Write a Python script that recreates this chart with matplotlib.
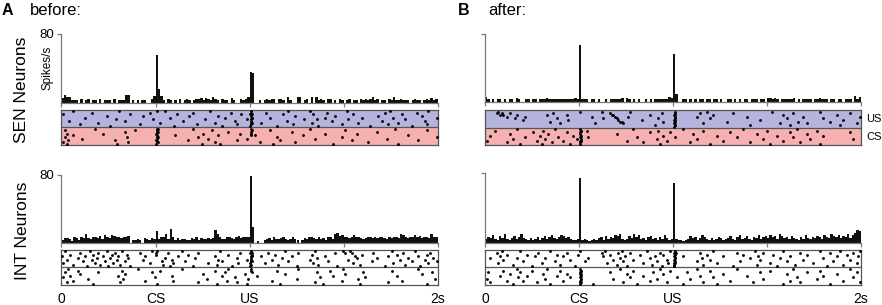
import numpy as np
import matplotlib
matplotlib.use("Agg")
import matplotlib.pyplot as plt

plt.rcParams['font.family'] = ['Liberation Sans', 'DejaVu Sans']

# ---------------- data ----------------
bin_ms = 12.5  # histogram bin width (ms), 160 bins over 2 s
time_ticks = [0, 0.5, 1.0, 1.5, 2.0]
time_labels = ['0', 'CS', 'US', '2s']
label_pos = [0, 0.5, 1.0, 2.0]

sen_before_rate = [
    5, 9, 7, 7, 3, 3, 3, 0, 4, 0,
    3, 4, 0, 3, 3, 0, 4, 0, 3, 3,
    3, 0, 4, 0, 3, 3, 3, 9, 9, 0,
    3, 0, 3, 0, 3, 3, 0, 0, 4, 8,
    56, 16, 8, 3, 0, 4, 3, 0, 3, 0,
    4, 0, 3, 4, 3, 0, 3, 4, 4, 5,
    3, 5, 4, 3, 6, 4, 3, 0, 4, 3,
    3, 0, 5, 3, 0, 0, 4, 3, 4, 6,
    36, 34, 0, 0, 3, 0, 3, 4, 3, 4,
    4, 0, 4, 4, 3, 0, 6, 3, 0, 0,
    6, 6, 0, 3, 4, 0, 7, 0, 7, 3,
    4, 3, 0, 4, 4, 0, 3, 0, 4, 3,
    0, 3, 4, 0, 3, 3, 0, 4, 3, 4,
    3, 4, 6, 3, 4, 0, 3, 3, 0, 4,
    3, 7, 3, 3, 4, 3, 3, 3, 0, 3,
    4, 3, 3, 0, 3, 4, 3, 5, 3, 4]

sen_after_rate = [
    6, 3, 0, 3, 0, 3, 4, 0, 3, 0,
    4, 3, 0, 5, 4, 0, 0, 3, 3, 0,
    4, 3, 0, 3, 4, 4, 5, 4, 4, 3,
    4, 3, 4, 3, 4, 4, 3, 4, 5, 3,
    66, 4, 3, 3, 0, 3, 3, 0, 3, 0,
    0, 3, 0, 3, 4, 4, 4, 3, 5, 0,
    5, 4, 0, 4, 0, 3, 0, 0, 3, 0,
    3, 0, 4, 4, 4, 3, 4, 3, 6, 5,
    56, 9, 0, 0, 3, 3, 0, 3, 0, 3,
    0, 3, 3, 0, 3, 3, 0, 4, 3, 0,
    3, 0, 0, 3, 3, 0, 3, 0, 3, 0,
    3, 3, 0, 3, 4, 3, 0, 4, 3, 0,
    5, 5, 4, 5, 3, 0, 4, 3, 4, 3,
    3, 5, 0, 4, 0, 3, 3, 4, 3, 0,
    3, 4, 5, 3, 3, 4, 0, 3, 3, 0,
    3, 4, 0, 3, 3, 4, 0, 7, 3, 6]

int_before_rate = [
    3, 5, 5, 4, 2, 6, 5, 3, 6, 5,
    10, 5, 4, 7, 6, 5, 8, 4, 9, 6,
    5, 9, 8, 6, 6, 5, 7, 6, 8, 0,
    3, 3, 4, 3, 0, 5, 4, 3, 5, 4,
    14, 4, 7, 6, 10, 4, 16, 7, 3, 5,
    3, 4, 4, 3, 3, 5, 4, 6, 3, 5,
    4, 4, 5, 4, 5, 15, 10, 6, 4, 4,
    6, 7, 5, 4, 7, 8, 5, 6, 7, 6,
    78, 18, 0, 2, 0, 0, 3, 4, 5, 3,
    6, 4, 4, 5, 7, 4, 3, 4, 6, 4,
    3, 0, 3, 5, 4, 6, 7, 5, 4, 6,
    4, 5, 3, 7, 6, 4, 10, 11, 8, 9,
    7, 6, 5, 7, 9, 6, 6, 5, 4, 5,
    6, 7, 5, 6, 5, 7, 6, 5, 4, 6,
    5, 6, 7, 5, 10, 9, 6, 5, 6, 7,
    9, 6, 8, 5, 7, 6, 5, 10, 7, 6]

int_after_rate = [
    5, 7, 6, 9, 5, 4, 8, 6, 10, 5,
    4, 6, 8, 5, 7, 10, 6, 5, 4, 6,
    3, 5, 7, 4, 6, 8, 5, 7, 9, 6,
    5, 7, 9, 8, 6, 7, 5, 4, 3, 5,
    74, 4, 5, 3, 2, 4, 5, 3, 6, 7,
    4, 8, 5, 7, 6, 9, 8, 10, 5, 3,
    5, 8, 6, 10, 7, 9, 5, 6, 4, 7,
    8, 5, 6, 4, 7, 5, 9, 6, 4, 5,
    68, 5, 3, 4, 2, 3, 5, 8, 6, 7,
    4, 6, 9, 7, 5, 4, 6, 3, 5, 7,
    6, 4, 5, 6, 8, 5, 4, 7, 9, 5,
    6, 8, 5, 4, 7, 6, 9, 5, 7, 8,
    6, 9, 7, 8, 5, 10, 8, 6, 7, 5,
    8, 6, 5, 4, 7, 5, 9, 6, 5, 7,
    6, 8, 7, 5, 9, 7, 6, 10, 8, 7,
    9, 6, 8, 7, 10, 6, 9, 12, 15, 14]

# raster spikes: (time in ms, trial 0-9)
sen_before_us_trials = [
    (10, 7), (39, 3), (60, 9), (100, 1), (125, 5), (160, 8), (196, 2), (240, 6), (258, 0), (290, 4),
    (305, 9), (338, 3), (364, 7), (418, 1), (435, 6), (470, 8), (488, 4), (508, 9), (524, 2), (550, 9),
    (577, 5), (600, 0), (615, 7), (648, 3), (680, 6), (701, 8), (720, 1), (763, 4), (790, 9), (816, 2),
    (834, 6), (852, 0), (870, 5), (900, 8), (923, 3), (932, 1), (955, 7), (985, 4),
    (1005, 0), (1009, 1), (1006, 2), (1010, 3), (1007, 4), (1011, 5), (1008, 6), (1012, 7), (1006, 8),
    (1009, 9), (1013, 2), (1012, 5), (1004, 7),
    (1060, 2), (1090, 8), (1110, 5), (1145, 0), (1180, 7), (1198, 3), (1206, 9), (1233, 1), (1242, 6),
    (1290, 4), (1322, 9), (1331, 2), (1340, 7), (1357, 4), (1366, 0), (1402, 5), (1411, 8), (1437, 3),
    (1455, 6), (1490, 1), (1517, 9), (1526, 4), (1552, 7), (1579, 2), (1600, 5), (1641, 0), (1685, 6),
    (1703, 3), (1721, 8), (1739, 1), (1747, 9), (1765, 5), (1791, 2), (1810, 7), (1827, 4), (1863, 0),
    (1890, 8), (1916, 6), (1934, 3), (1943, 1), (1951, 9), (1996, 5)]

sen_before_cs_trials = [
    (10, 1), (19, 4), (28, 6), (36, 2), (19, 8), (30, 0), (63, 5), (107, 3), (178, 9), (222, 6),
    (285, 2), (294, 0), (338, 7), (347, 4), (355, 1), (391, 8),
    (504, 0), (507, 1), (505, 2), (508, 3), (506, 4), (509, 5), (505, 6), (507, 7), (510, 8), (506, 9),
    (512, 1), (513, 4), (511, 7), (512, 9),
    (604, 5), (674, 2), (701, 9), (728, 4), (746, 0), (754, 6), (781, 3), (799, 8), (816, 1), (834, 5),
    (843, 0), (887, 7), (932, 2), (949, 6), (985, 3),
    (1008, 5), (1010, 6), (1007, 7), (1011, 8), (1009, 9),
    (1029, 5), (1056, 1), (1109, 8), (1127, 0), (1145, 4), (1162, 2), (1224, 7), (1242, 1), (1286, 5),
    (1322, 9), (1348, 3), (1402, 6), (1446, 0), (1490, 4), (1508, 8), (1544, 2), (1570, 6), (1632, 1),
    (1677, 7), (1730, 3), (1774, 9), (1791, 0), (1845, 5), (1898, 2), (1943, 8), (1996, 4)]

sen_after_us_trials = [
    (62, 8), (71, 9), (80, 7), (89, 8), (98, 7), (115, 6), (133, 8), (160, 5), (168, 7), (204, 4),
    (213, 6), (328, 7), (346, 3), (363, 8), (381, 5), (399, 2), (434, 7), (443, 4), (505, 9), (567, 6),
    (585, 2), (621, 9), (630, 5), (665, 8), (674, 7), (683, 7), (691, 6), (700, 5), (709, 4), (718, 3),
    (727, 3), (736, 2), (762, 6), (771, 9), (833, 4), (878, 7), (904, 1), (922, 5), (940, 8), (948, 3),
    (1005, 0), (1008, 1), (1006, 2), (1010, 3), (1007, 4), (1009, 5), (1011, 6), (1006, 7), (1008, 8),
    (1010, 9), (1013, 1), (1012, 4), (1013, 7),
    (1126, 6), (1144, 8), (1161, 2), (1179, 9), (1197, 5), (1214, 7), (1286, 3), (1321, 8), (1392, 6),
    (1410, 1), (1463, 4), (1525, 9), (1569, 2), (1587, 7), (1605, 5), (1622, 1), (1640, 8), (1667, 3),
    (1693, 6), (1711, 2), (1782, 9), (1800, 5), (1835, 3), (1870, 7), (1888, 1), (1906, 4), (1941, 8),
    (1977, 2), (1995, 6)]

sen_after_cs_trials = [
    (9, 2), (27, 5), (53, 8), (115, 1), (133, 6), (151, 3), (168, 9), (186, 0), (213, 4), (257, 7),
    (275, 2), (293, 5), (301, 0), (310, 8), (319, 3), (337, 6), (355, 1), (372, 9), (390, 4), (417, 2),
    (434, 7), (452, 0), (470, 5), (488, 3),
    (504, 0), (507, 1), (505, 2), (508, 3), (506, 4), (509, 5), (505, 6), (507, 7), (510, 8), (506, 9),
    (512, 2), (511, 5), (513, 8),
    (541, 8), (550, 4), (700, 6), (754, 2), (789, 9), (807, 4), (842, 1), (878, 7), (913, 3), (922, 8),
    (931, 0), (949, 5), (966, 2), (984, 7), (1011, 4), (1055, 9), (1090, 1), (1108, 6), (1126, 3),
    (1161, 8), (1197, 0), (1232, 5), (1268, 2), (1303, 7), (1339, 4), (1374, 9), (1410, 1), (1445, 6),
    (1480, 3), (1498, 8), (1516, 0), (1551, 5), (1587, 2), (1622, 7), (1640, 4), (1658, 9), (1676, 1),
    (1711, 6), (1729, 3), (1764, 8), (1782, 0), (1800, 5), (1941, 7), (1959, 3)]

int_before_top_trials = [
    (1, 6), (10, 2), (19, 9), (27, 4), (45, 7), (63, 1), (89, 5), (98, 8), (116, 3), (125, 6),
    (134, 0), (152, 9), (160, 4), (169, 7), (178, 2), (187, 5), (196, 8), (205, 1), (222, 6), (231, 3),
    (240, 9), (249, 0), (258, 5), (267, 7), (276, 2), (285, 8), (293, 4), (302, 6), (311, 1), (320, 9),
    (338, 3), (347, 7), (355, 5), (364, 0), (418, 8), (435, 4), (444, 6), (471, 2), (480, 9),
    (503, 7), (505, 8), (507, 9),
    (533, 3), (542, 1), (551, 5), (568, 8), (577, 0), (586, 4), (595, 2), (621, 6), (639, 9), (657, 3),
    (675, 7), (701, 0), (710, 5), (728, 8), (781, 2), (816, 6), (825, 1), (834, 4), (843, 9), (852, 3),
    (887, 7), (905, 0), (932, 5), (940, 2), (949, 8), (985, 4),
    (1004, 0), (1007, 1), (1005, 2), (1009, 3), (1006, 4), (1010, 5), (1007, 6), (1011, 7), (1005, 8),
    (1008, 9), (1013, 3), (1012, 6), (1014, 8),
    (1060, 6), (1085, 2), (1100, 8), (1120, 4), (1135, 7),
    (1153, 1), (1171, 5), (1189, 9), (1207, 3), (1224, 6), (1251, 0), (1260, 8), (1322, 4), (1331, 7),
    (1340, 2), (1348, 9), (1357, 5), (1366, 1), (1402, 6), (1419, 3), (1455, 8), (1464, 0), (1499, 9),
    (1508, 8), (1526, 4), (1535, 9), (1543, 8), (1552, 2), (1561, 6), (1570, 5), (1588, 1), (1597, 7),
    (1650, 3), (1659, 8), (1676, 5), (1721, 0), (1738, 6), (1756, 9), (1765, 2), (1783, 7), (1800, 4),
    (1818, 8), (1827, 1), (1845, 5), (1863, 3), (1880, 9), (1898, 6), (1907, 0), (1934, 4), (1943, 7),
    (1951, 2), (1960, 8), (1978, 5), (1996, 3)]

int_before_bottom_trials = [
    (10, 4), (19, 7), (27, 1), (36, 9), (45, 5), (63, 2), (89, 8), (98, 6), (143, 3), (169, 0),
    (196, 7), (302, 5), (311, 1), (320, 8), (329, 3), (338, 6), (409, 9), (444, 2), (480, 7), (497, 4),
    (506, 0), (524, 8), (586, 5), (595, 2), (639, 9), (728, 1), (755, 6), (772, 3), (816, 8), (825, 0),
    (852, 5), (870, 7), (878, 2), (887, 9), (923, 4), (932, 1), (976, 6), (985, 0), (994, 3),
    (1006, 9), (1009, 8), (1011, 7),
    (1038, 5), (1118, 2), (1145, 8), (1162, 0), (1189, 6), (1251, 3), (1260, 9), (1348, 1), (1357, 7),
    (1375, 4), (1393, 0), (1428, 8), (1446, 5), (1490, 2), (1499, 9), (1508, 6), (1579, 3), (1588, 0),
    (1606, 7), (1615, 4), (1738, 1), (1756, 8), (1783, 5), (1810, 2), (1898, 9), (1916, 6), (1943, 0),
    (1969, 7), (1987, 3)]

int_after_top_trials = [
    (27, 5), (62, 8), (71, 2), (80, 6), (89, 9), (98, 4), (115, 7), (151, 1), (168, 5), (186, 9),
    (204, 3), (222, 7), (248, 0), (266, 6), (284, 8), (301, 2), (319, 5), (346, 9), (372, 3), (381, 7),
    (399, 1), (417, 6), (434, 8), (452, 4), (479, 0), (496, 7), (505, 9), (532, 3), (550, 5), (620, 8),
    (629, 6), (638, 9), (647, 2), (665, 7), (683, 4), (700, 1), (709, 8), (718, 5), (727, 9), (736, 3),
    (745, 6), (754, 0), (771, 8), (789, 4), (824, 7), (842, 2), (860, 9), (878, 5), (886, 1), (904, 6),
    (913, 3), (931, 8), (940, 0), (948, 7), (966, 4), (975, 2), (984, 9),
    (1004, 0), (1007, 1), (1005, 2), (1009, 3), (1006, 4), (1010, 5), (1007, 6), (1011, 7), (1005, 8),
    (1008, 9), (1013, 2), (1012, 5), (1014, 8),
    (1055, 6), (1126, 3), (1144, 8), (1152, 5), (1161, 1), (1179, 7), (1197, 4), (1214, 9), (1232, 2),
    (1268, 6), (1321, 0), (1339, 8), (1356, 3), (1374, 7), (1410, 5), (1436, 9), (1445, 1), (1454, 6),
    (1463, 4), (1480, 8), (1516, 2), (1534, 7), (1551, 0), (1569, 5), (1587, 9), (1605, 3), (1622, 6),
    (1649, 1), (1676, 8), (1693, 4), (1711, 7), (1746, 2), (1782, 9), (1800, 5), (1817, 0), (1835, 8),
    (1853, 3), (1870, 6), (1888, 9), (1906, 1), (1924, 7), (1941, 4), (1959, 8), (1977, 2), (1986, 6),
    (1995, 9)]

int_after_bottom_trials = [
    (9, 3), (18, 7), (27, 1), (80, 5), (98, 8), (115, 2), (133, 6), (151, 0), (168, 9), (177, 4),
    (186, 7), (204, 2), (222, 5), (248, 8), (275, 1), (310, 6), (319, 3), (328, 9), (346, 0), (381, 5),
    (399, 8), (417, 2), (434, 6), (452, 4),
    (504, 0), (507, 1), (505, 2), (508, 3), (506, 4), (509, 5), (505, 6), (507, 7), (510, 8), (506, 9),
    (512, 1), (513, 3), (511, 6), (512, 8),
    (576, 0), (665, 7), (683, 3), (718, 9), (736, 1), (754, 6), (771, 4), (789, 8), (807, 0), (842, 5),
    (878, 2), (895, 7), (913, 3), (931, 9), (948, 6), (966, 1), (984, 8), (1020, 4), (1055, 0),
    (1073, 7), (1090, 3), (1126, 9), (1144, 5), (1161, 1), (1197, 8), (1214, 4), (1232, 0), (1268, 6),
    (1303, 2), (1339, 9), (1392, 5), (1428, 1), (1463, 7), (1480, 3), (1516, 8), (1587, 0), (1605, 6),
    (1622, 2), (1640, 9), (1658, 4), (1676, 1), (1711, 7), (1764, 3), (1782, 8), (1800, 5), (1835, 0),
    (1870, 6), (1906, 2), (1941, 9), (1959, 4), (1977, 7), (1995, 1)]

# ---------------- styling / layout ----------------
W, H = 882, 305
US_COLOR = '#b4b4de'
CS_COLOR = '#f6b0b0'
AXIS_GRAY = '#7a7a7a'
BOX_GRAY = '#555555'

fig = plt.figure(figsize=(W / 100, H / 100), dpi=100)


def rect(x0, y0, x1, y1):
    return [x0 / W, 1 - y1 / H, (x1 - x0) / W, (y1 - y0) / H]


def hist_panel(r, rates, show80):
    ax = fig.add_axes(r)
    n = len(rates)
    bw = bin_ms / 1000.0
    lefts = np.arange(n) * bw
    ax.bar(lefts, rates, width=bw, align='edge', color='#111111', linewidth=0)
    ax.set_xlim(0, 2)
    ax.set_ylim(0, 80)
    for s in ['top', 'right']:
        ax.spines[s].set_visible(False)
    for s in ['left', 'bottom']:
        ax.spines[s].set_color(AXIS_GRAY)
        ax.spines[s].set_linewidth(0.9)
    ax.spines['left'].set_bounds(0, 80)
    ax.set_xticks(time_ticks)
    ax.set_xticklabels([])
    ax.set_yticks([80])
    ax.set_yticklabels(['80'] if show80 else [''])
    ax.tick_params(axis='both', direction='out', length=3, width=0.9,
                   color=AXIS_GRAY, labelsize=9.5, pad=2)
    ax.patch.set_visible(False)
    return ax


def raster_panel(r, top, bottom, colored, labels):
    ax = fig.add_axes(r)
    ax.set_xlim(0, 2)
    ax.set_ylim(0, 20)
    if colored:
        ax.axhspan(10, 20, color=US_COLOR, lw=0)
        ax.axhspan(0, 10, color=CS_COLOR, lw=0)
    ax.axhline(10, color=BOX_GRAY, lw=0.9)
    tt = np.array([p[0] for p in top]) / 1000.0
    ty = np.array([p[1] for p in top]) * 0.95 + 10.5
    bt = np.array([p[0] for p in bottom]) / 1000.0
    by = np.array([p[1] for p in bottom]) * 0.95 + 0.5
    ax.scatter(np.concatenate([tt, bt]), np.concatenate([ty, by]), s=4.2,
               marker='o', color='black', linewidths=0, zorder=3)
    for s in ax.spines.values():
        s.set_color(BOX_GRAY)
        s.set_linewidth(0.9)
    ax.set_yticks([])
    if labels:
        ax.set_xticks(label_pos)
        ax.set_xticklabels(time_labels, fontsize=10)
        ax.tick_params(axis='x', length=0, pad=5)
    else:
        ax.set_xticks([])
    return ax


AX0, AX1 = 61.5, 437.5
BX0, BX1 = 485, 861

hist_panel(rect(AX0, 34, AX1, 102.5), sen_before_rate, True)
raster_panel(rect(AX0, 109.5, AX1, 144.5), sen_before_us_trials, sen_before_cs_trials, True, False)
hist_panel(rect(AX0, 174.5, AX1, 242.5), int_before_rate, True)
raster_panel(rect(AX0, 249.5, AX1, 285), int_before_top_trials, int_before_bottom_trials, False, True)

hist_panel(rect(BX0, 33.5, BX1, 102), sen_after_rate, False)
raster_panel(rect(BX0, 110, BX1, 145), sen_after_us_trials, sen_after_cs_trials, True, False)
hist_panel(rect(BX0, 173, BX1, 243), int_after_rate, False)
raster_panel(rect(BX0, 249.5, BX1, 285), int_after_top_trials, int_after_bottom_trials, False, True)

# text
fig.text(2 / W, 1 - 15 / H, 'A', fontsize=11.5, fontweight='bold', va='baseline')
fig.text(30 / W, 1 - 15 / H, 'before:', fontsize=12, va='baseline')
fig.text(458 / W, 1 - 15 / H, 'B', fontsize=11.5, fontweight='bold', va='baseline')
fig.text(488 / W, 1 - 15 / H, 'after:', fontsize=12, va='baseline')

fig.text(22 / W, 1 - 90 / H, 'SEN Neurons', rotation=90, fontsize=12.5,
         ha='center', va='center')
fig.text(23 / W, 1 - 231 / H, 'INT Neurons', rotation=90, fontsize=12.5,
         ha='center', va='center')
fig.text(48 / W, 1 - 68 / H, 'Spikes/s', rotation=90, fontsize=8.5,
         ha='center', va='center')

fig.text(866 / W, 1 - 118.5 / H, 'US', fontsize=8, ha='left', va='center')
fig.text(866 / W, 1 - 136.5 / H, 'CS', fontsize=8, ha='left', va='center')

fig.savefig('out.png', dpi=100)
